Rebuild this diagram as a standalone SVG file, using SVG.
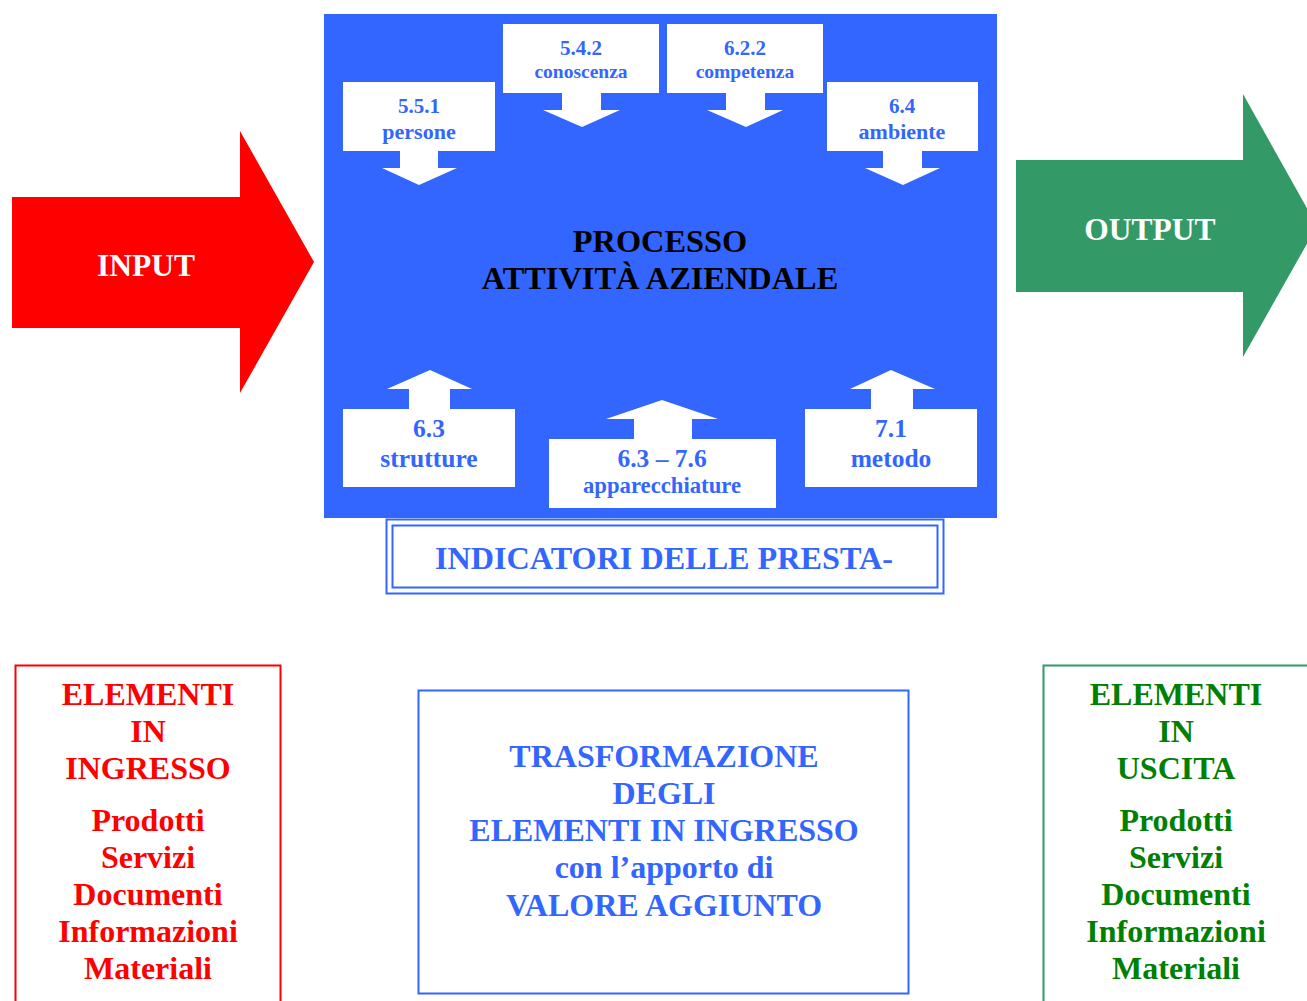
<svg xmlns="http://www.w3.org/2000/svg" width="1307" height="1001" viewBox="0 0 1307 1001">
<style>
text{font-family:"Liberation Serif","Times New Roman",serif;font-weight:bold;text-anchor:middle}
.call{fill:#ffffff}
.ct{fill:#3366FF}
.red{fill:#FF0000;font-size:32px}
.grn{fill:#008000;font-size:32px}
.blu{fill:#3366FF;font-size:32px}
</style>
<rect width="1307" height="1001" fill="#ffffff"/>
<g id="input">
<polygon points="12,197 240,197 240,131 314,262 240,393 240,328 12,328" fill="#FF0000"/>
<text x="146" y="276" fill="#ffffff" font-size="31.5">INPUT</text>
</g>
<g id="output">
<polygon points="1016,160 1243,160 1243,94 1317,226 1243,357 1243,292 1016,292" fill="#339966"/>
<text x="1150" y="240" fill="#ffffff" font-size="31.5">OUTPUT</text>
</g>
<g id="processo">
<rect x="324" y="14" width="673" height="504" fill="#3366FF"/>
<text x="660" y="252" fill="#000000" font-size="32.4">PROCESSO</text>
<text x="660" y="289" fill="#000000" font-size="32.4">ATTIVITÀ AZIENDALE</text>
</g>
<g id="connectors">
<polygon class="call" points="400,150 438,150 438,168 457,168 419,185 382,168 400,168"/>
<polygon class="call" points="562,92 601,92 601,110 620,110 582,127 543,110 562,110"/>
<polygon class="call" points="726,92 765,92 765,110 783,110 746,127 707,110 726,110"/>
<polygon class="call" points="883,150 922,150 922,168 940,168 903,185 865,168 883,168"/>
<polygon class="call" points="409,410 450,410 450,389 472,389 430,370 387,389 409,389"/>
<polygon class="call" points="634,440 692,440 692,419 718,419 662,400 606,419 634,419"/>
<polygon class="call" points="871,410 913,410 913,389 935,389 891,370 850,389 871,389"/>
</g>
<g id="persone">
<rect class="call" x="343" y="82" width="152" height="69"/>
<text class="ct" x="419" y="113" font-size="21">5.5.1</text>
<text class="ct" x="419" y="139" font-size="22">persone</text>
</g>
<g id="conoscenza">
<rect class="call" x="503" y="24" width="156" height="69"/>
<text class="ct" x="581" y="55" font-size="21">5.4.2</text>
<text class="ct" x="581" y="78" font-size="19.5">conoscenza</text>
</g>
<g id="competenza">
<rect class="call" x="667" y="24" width="156" height="69"/>
<text class="ct" x="745" y="55" font-size="21">6.2.2</text>
<text class="ct" x="745" y="78" font-size="19.5">competenza</text>
</g>
<g id="ambiente">
<rect class="call" x="827" y="82" width="151" height="69"/>
<text class="ct" x="902" y="113" font-size="21">6.4</text>
<text class="ct" x="902" y="139" font-size="22">ambiente</text>
</g>
<g id="strutture">
<rect class="call" x="343" y="409" width="172" height="78"/>
<text class="ct" x="429" y="437" font-size="25.5">6.3</text>
<text class="ct" x="429" y="467" font-size="25.5">strutture</text>
</g>
<g id="apparecchiature">
<rect class="call" x="549" y="439" width="227" height="69"/>
<text class="ct" x="662" y="467" font-size="25.5">6.3 – 7.6</text>
<text class="ct" x="662" y="493" font-size="22.7">apparecchiature</text>
</g>
<g id="metodo">
<rect class="call" x="805" y="409" width="172" height="78"/>
<text class="ct" x="891" y="437" font-size="25.5">7.1</text>
<text class="ct" x="891" y="467" font-size="25.5">metodo</text>
</g>
<g id="indicatori">
<rect x="386.5" y="519.5" width="557" height="74" fill="none" stroke="#3366FF" stroke-width="2"/>
<rect x="392.5" y="525.5" width="545" height="62" fill="none" stroke="#3366FF" stroke-width="2"/>
<text x="664" y="569" fill="#3366FF" font-size="32.2">INDICATORI DELLE PRESTA-</text>
</g>
<g id="ingresso">
<rect x="15.5" y="665.5" width="265" height="350" fill="none" stroke="#FF0000" stroke-width="2"/>
<text class="red" x="148" y="705">ELEMENTI</text>
<text class="red" x="148" y="742">IN</text>
<text class="red" x="148" y="779">INGRESSO</text>
<text class="red" x="148" y="831">Prodotti</text>
<text class="red" x="148" y="868">Servizi</text>
<text class="red" x="148" y="905">Documenti</text>
<text class="red" x="148" y="942">Informazioni</text>
<text class="red" x="148" y="979">Materiali</text>
</g>
<g id="trasformazione">
<rect x="418.5" y="690.5" width="490" height="303" fill="none" stroke="#3366FF" stroke-width="2"/>
<text class="blu" x="664" y="767">TRASFORMAZIONE</text>
<text class="blu" x="664" y="804">DEGLI</text>
<text class="blu" x="664" y="841">ELEMENTI IN INGRESSO</text>
<text class="blu" x="664" y="878">con l’apporto di</text>
<text class="blu" x="664" y="916">VALORE AGGIUNTO</text>
</g>
<g id="uscita">
<rect x="1043.5" y="665.5" width="300" height="350" fill="none" stroke="#339966" stroke-width="2"/>
<text class="grn" x="1176" y="705">ELEMENTI</text>
<text class="grn" x="1176" y="742">IN</text>
<text class="grn" x="1176" y="779">USCITA</text>
<text class="grn" x="1176" y="831">Prodotti</text>
<text class="grn" x="1176" y="868">Servizi</text>
<text class="grn" x="1176" y="905">Documenti</text>
<text class="grn" x="1176" y="942">Informazioni</text>
<text class="grn" x="1176" y="979">Materiali</text>
</g>
</svg>
